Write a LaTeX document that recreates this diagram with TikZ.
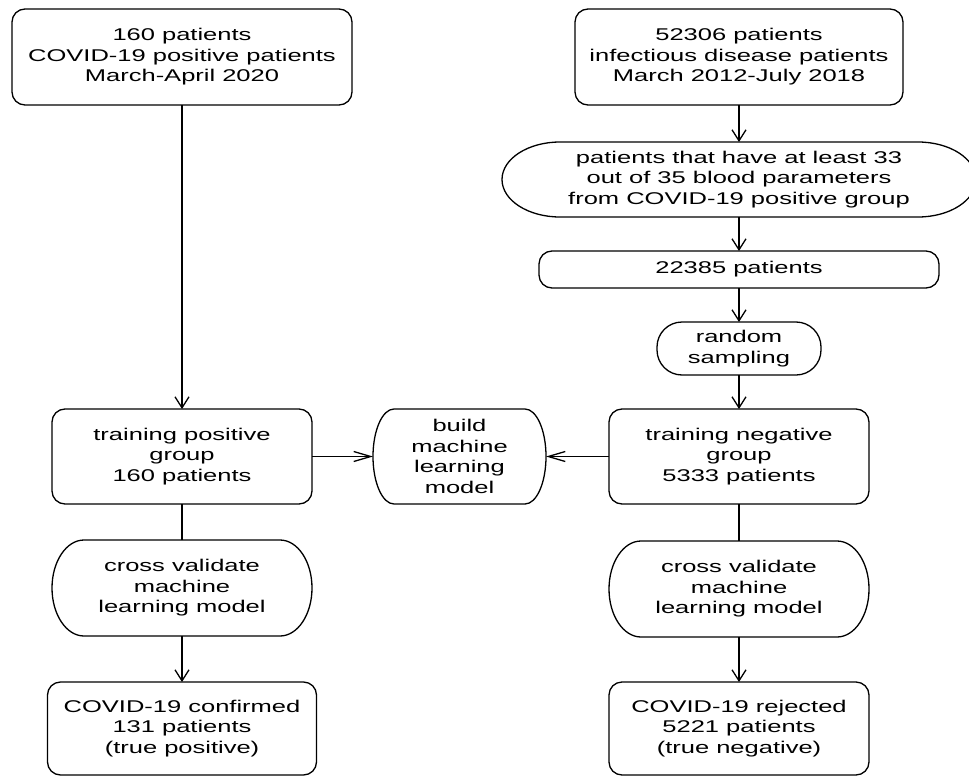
\documentclass[tikz,border=0pt]{standalone}
\usepackage{fontspec}
\setmainfont{Liberation Sans}[FakeStretch=1.5]
\usetikzlibrary{arrows.meta,calc}
\tikzset{
  every node/.style={font=\fontsize{17pt}{20.5pt}\selectfont},
  box/.style={draw, line width=1.3pt, rounded corners=13pt, inner sep=0pt, outer sep=0pt, align=center},
  termnode/.style={inner sep=0pt, outer sep=0pt, align=center},
  conn/.style={line width=1.3pt},
  varr/.style={conn, -{Straight Barb[length=11pt,width=14pt]}},
  harr/.style={conn, -{Straight Barb[length=17pt,width=10pt]}},
}
\newcommand{\termoutline}[2]{%
  \draw[line width=1.3pt] let \p1=(#1.north west), \p2=(#1.south east), \n1={(\y1-\y2)/2} in
    (\x1+#2,\y1) -- (\x2-#2,\y1)
    arc[start angle=90, end angle=-90, x radius=#2, y radius=\n1]
    -- (\x1+#2,\y2)
    arc[start angle=270, end angle=90, x radius=#2, y radius=\n1] -- cycle;}
\begin{document}
\begin{tikzpicture}[x=1pt, y=-1pt]
\useasboundingbox (0,0) rectangle (969,776);

% top boxes
\node[box, minimum width=340pt, minimum height=96pt] (A) at (182,57)
  {160 patients\\COVID-19 positive patients\\March-April 2020};
\node[box, minimum width=328pt, minimum height=96pt] (B) at (739,57)
  {52306 patients\\infectious disease patients\\March 2012-July 2018};

% rounded-end selection shape
\node[termnode, minimum width=474pt, minimum height=75pt] (C) at (739,179.5)
  {patients that have at least 33\\out of 35 blood parameters\\from COVID-19 positive group};
\termoutline{C}{58pt}

\node[box, minimum width=400pt, minimum height=37pt] (D) at (739,269.5) {22385 patients};
\node[box, rounded corners=25pt, minimum width=164pt, minimum height=53pt] (E) at (739,348.5)
  {random\\sampling};

% training row
\node[box, minimum width=260pt, minimum height=95pt] (F) at (739,456.5)
  {training negative\\group\\5333 patients};
\node[box, minimum width=260pt, minimum height=95pt] (P) at (182,456.5)
  {training positive\\group\\160 patients};
\node[termnode, minimum width=173pt, minimum height=95pt] (M) at (459.5,456.5)
  {build\\machine\\learning\\model};
\termoutline{M}{21pt}

% cross validation
\node[termnode, minimum width=260pt, minimum height=96pt] (CVL) at (182,588)
  {cross validate\\machine\\learning model};
\termoutline{CVL}{32pt}
\node[termnode, minimum width=260pt, minimum height=96pt] (CVR) at (739,589)
  {cross validate\\machine\\learning model};
\termoutline{CVR}{32pt}

% results
\node[box, minimum width=269pt, minimum height=93pt] (CONF) at (182,728.5)
  {COVID-19 confirmed\\131 patients\\(true positive)};
\node[box, minimum width=260pt, minimum height=93pt] (REJ) at (739,728.5)
  {COVID-19 rejected\\5221 patients\\(true negative)};

% connectors
\draw[varr] (A.south) -- (P.north);
\draw[varr] (B.south) -- (C.north);
\draw[varr] (C.south) -- (D.north);
\draw[varr] (D.south) -- (E.north);
\draw[varr] (E.south) -- (F.north);
\draw[harr] (P.east) -- (M.west);
\draw[harr] (F.west) -- (M.east);
\draw[conn] (P.south) -- (CVL.north);
\draw[conn] (F.south) -- (CVR.north);
\draw[varr] (CVL.south) -- (CONF.north);
\draw[varr] (CVR.south) -- (REJ.north);
\end{tikzpicture}
\end{document}
